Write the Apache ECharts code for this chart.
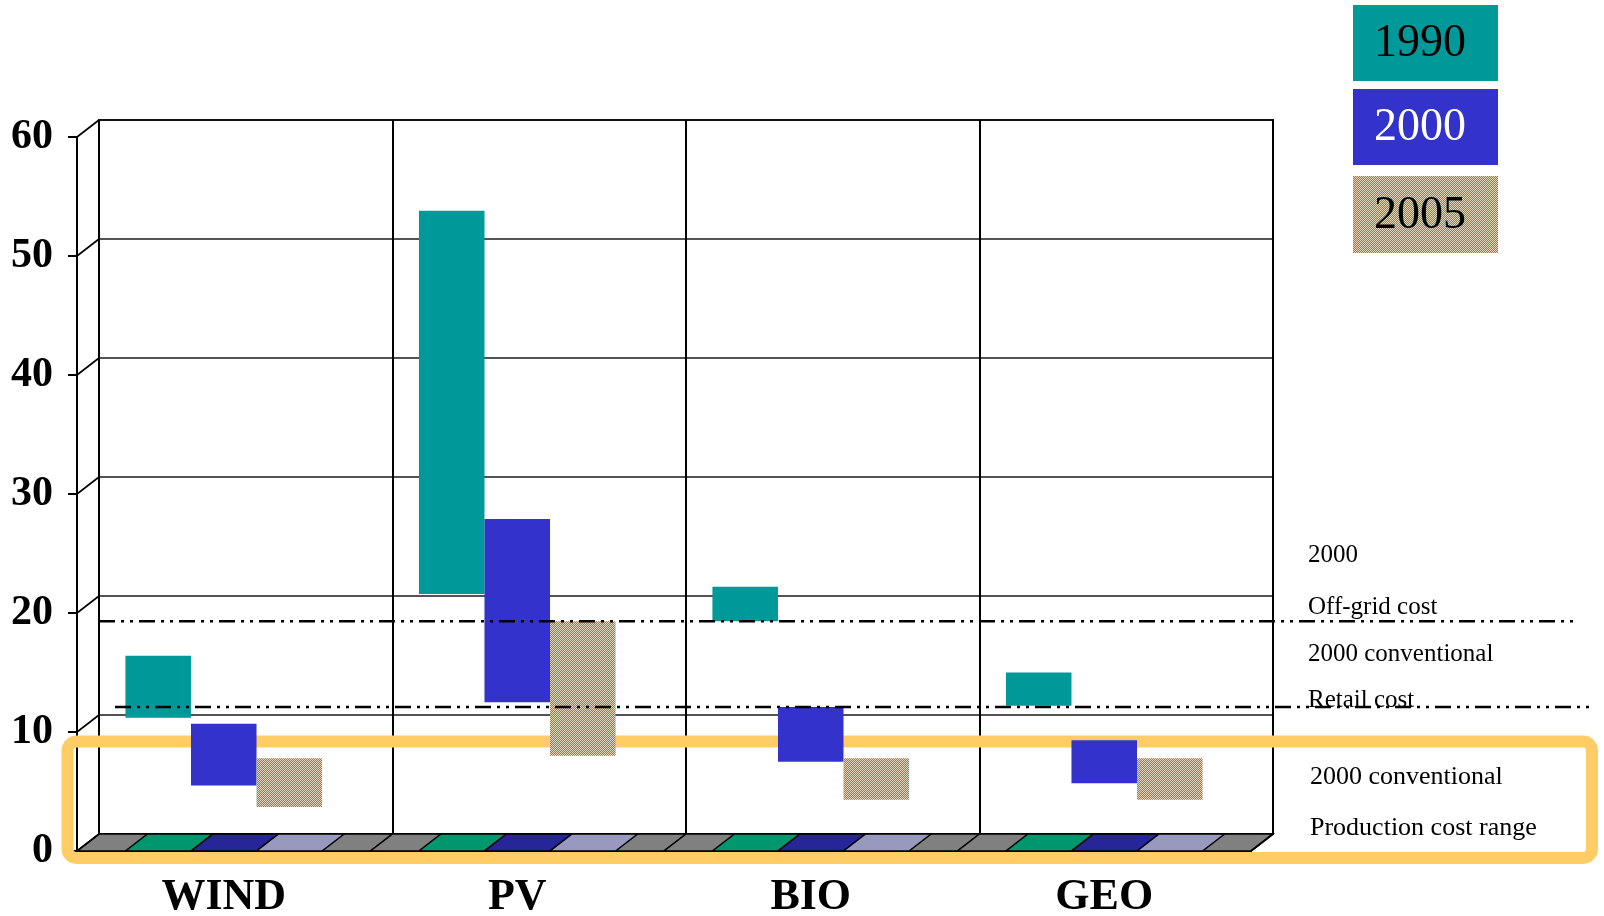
<!DOCTYPE html>
<html>
<head>
<meta charset="utf-8">
<script src="https://cdn.jsdelivr.net/npm/echarts@6/dist/echarts.min.js"></script>
<style>
  html, body { margin: 0; padding: 0; background: #fff; }
  #chart { width: 1604px; height: 916px; }
</style>
</head>
<body>
<div id="chart"></div>
<script>
// data
var categories = ['WIND', 'PV', 'BIO', 'GEO'];
var years = ['1990', '2000', '2005'];
var low1990 = [11.2, 21.6, 19.3, 12.2];
var high1990 = [16.4, 53.8, 22.2, 15.0];
var low2000 = [5.5, 12.5, 7.5, 5.7];
var high2000 = [10.7, 27.9, 12.1, 9.3];
var low2005 = [3.7, 8.0, 4.3, 4.3];
var high2005 = [7.8, 19.3, 7.8, 7.8];
var yTicks = [0, 10, 20, 30, 40, 50, 60];
var offGridCost = 19.3;
var retailCost = 12.1;
var noteLines = ['2000', 'Off-grid cost', '2000 conventional', 'Retail cost'];
var boxLines = ['2000 conventional', 'Production cost range'];

var FONT = '"Liberation Serif", "Times New Roman", serif';
var CAT_GAP = 0.33;
var DX = 22, DY = 17;           // pseudo 3d depth
var FRONT = { left: 77, right: 353, top: 137, bottom: 65 };
var BACK = { left: 99, right: 331, top: 120, bottom: 82 };

// dotted tan fill
function tanPattern() {
  var c = document.createElement('canvas');
  c.width = 2; c.height = 2;
  var ctx = c.getContext('2d');
  ctx.fillStyle = '#9c7450';
  ctx.fillRect(0, 0, 2, 2);
  ctx.fillStyle = '#e6d6bc';
  ctx.fillRect(0, 0, 1, 1);
  ctx.fillRect(1, 1, 1, 1);
  return { image: c, repeat: 'repeat' };
}
var TAN = tanPattern();
var yearFills = ['#009999', '#3333cc', TAN];
var floorColors = ['#00966e', '#262699', '#9999bf'];

function barRenderer(slot, fill) {
  return function (params, api) {
    var cat = api.value(0);
    var lo = api.coord([cat, api.value(1)]);
    var hi = api.coord([cat, api.value(2)]);
    var band = api.size([1, 0])[0];
    var sw = band * (1 - CAT_GAP) / 3;
    var x0 = lo[0] - 1.5 * sw + slot * sw;
    return {
      type: 'rect',
      shape: { x: x0, y: hi[1], width: sw, height: lo[1] - hi[1] },
      style: { fill: fill }
    };
  };
}

function para(x0, x1, y) {
  return [[x0, y], [x1, y], [x1 + DX, y - DY], [x0 + DX, y - DY]];
}

function floorRenderer(params, api) {
  var cat = api.value(0);
  var p = api.coord([cat, 0]);
  var band = api.size([1, 0])[0];
  var sw = band * (1 - CAT_GAP) / 3;
  var kids = [{
    type: 'polygon',
    shape: { points: para(p[0] - band / 2, p[0] + band / 2, p[1]) },
    style: { fill: '#808080', stroke: '#000', lineWidth: 1.5 }
  }];
  for (var k = 0; k < 3; k++) {
    var x0 = p[0] - 1.5 * sw + k * sw;
    kids.push({
      type: 'polygon',
      shape: { points: para(x0, x0 + sw, p[1]) },
      style: { fill: floorColors[k], stroke: '#000', lineWidth: 1.5 }
    });
  }
  return { type: 'group', children: kids };
}

var lows = [low1990, low2000, low2005];
var highs = [high1990, high2000, high2005];

var series = [{
  type: 'custom',
  name: 'floor',
  xAxisIndex: 1, yAxisIndex: 1,
  z: 3,
  renderItem: floorRenderer,
  encode: { x: 0, y: 1 },
  data: categories.map(function (c, i) { return [i, 0]; })
}];
years.forEach(function (y, s) {
  series.push({
    type: 'custom',
    name: y,
    xAxisIndex: 1, yAxisIndex: 1,
    z: 4,
    renderItem: barRenderer(s, yearFills[s]),
    encode: { x: 0, y: [1, 2] },
    data: categories.map(function (c, i) { return [i, lows[s][i], highs[s][i]]; })
  });
});

var chart = echarts.init(document.getElementById('chart'));
var option = {
  animation: false,
  backgroundColor: '#fff',
  grid: [
    { left: BACK.left, right: BACK.right, top: BACK.top, bottom: BACK.bottom,
      outerBoundsMode: 'none', containLabel: false,
      show: true, borderColor: '#000', borderWidth: 2, backgroundColor: 'transparent' },
    { left: FRONT.left, right: FRONT.right, top: FRONT.top, bottom: FRONT.bottom,
      outerBoundsMode: 'none', containLabel: false }
  ],
  xAxis: [
    { type: 'category', gridIndex: 0, data: categories,
      axisLine: { show: false }, axisTick: { show: false }, axisLabel: { show: false },
      splitLine: { show: true, lineStyle: { color: '#000', width: 2 } } },
    { type: 'category', gridIndex: 1, data: categories,
      axisLine: { show: true, lineStyle: { color: '#000', width: 2 } },
      axisTick: { show: true, length: 3, lineStyle: { color: '#000', width: 1.5 } },
      axisLabel: { color: '#000', fontFamily: FONT, fontWeight: 'bold', fontSize: 44, margin: 25 },
      splitLine: { show: false } }
  ],
  yAxis: [
    { type: 'value', gridIndex: 0, min: 0, max: 60, interval: 10,
      axisLine: { show: false }, axisTick: { show: false }, axisLabel: { show: false },
      splitLine: { show: true, lineStyle: { color: '#1a1a1a', width: 1.6 } } },
    { type: 'value', gridIndex: 1, min: 0, max: 60, interval: 10,
      axisLine: { show: true, lineStyle: { color: '#000', width: 2 } },
      axisTick: { show: true, length: 9, lineStyle: { color: '#000', width: 2 } },
      axisLabel: { color: '#000', fontFamily: FONT, fontWeight: 'bold', fontSize: 42, margin: 24 },
      splitLine: { show: false } }
  ],
  series: series
};
chart.setOption(option);

// decorations placed through the axes' own scales
function yFront(v) { return chart.convertToPixel({ yAxisIndex: 1 }, v); }
function yBack(v) { return chart.convertToPixel({ yAxisIndex: 0 }, v); }

var g = [];
g.push({
  type: 'rect', z: 1,
  shape: { x: 67.5, y: 741.5, width: 1524.5, height: 116.5, r: 9 },
  style: { fill: 'none', stroke: '#ffcc66', lineWidth: 12 }
});
yTicks.forEach(function (v) {
  g.push({
    type: 'line', z: 5,
    shape: { x1: FRONT.left, y1: yFront(v), x2: BACK.left, y2: yBack(v) },
    style: { stroke: '#000', lineWidth: 1.6 }
  });
});
var rightFront = 1604 - FRONT.right, rightBack = 1604 - BACK.right;
g.push({
  type: 'line', z: 5,
  shape: { x1: rightFront, y1: yFront(0), x2: rightBack, y2: yBack(0) },
  style: { stroke: '#000', lineWidth: 2 }
});
var dash = [16, 6, 3, 6, 3, 6];
g.push({
  type: 'line', z: 6,
  shape: { x1: BACK.left, y1: yFront(offGridCost), x2: 1575, y2: yFront(offGridCost) },
  style: { stroke: '#000', lineWidth: 2.5, lineDash: dash }
});
g.push({
  type: 'line', z: 6,
  shape: { x1: 115, y1: yFront(retailCost), x2: 1590, y2: yFront(retailCost) },
  style: { stroke: '#000', lineWidth: 2.5, lineDash: dash }
});
var noteY = [555, 607, 654, 700];
noteLines.forEach(function (t, i) {
  g.push({ type: 'text', z: 7, x: 1308, y: noteY[i],
    style: { text: t, fontFamily: FONT, fontSize: 25, fill: '#000', align: 'left', verticalAlign: 'middle' } });
});
var boxY = [777, 828];
boxLines.forEach(function (t, i) {
  g.push({ type: 'text', z: 7, x: 1310, y: boxY[i],
    style: { text: t, fontFamily: FONT, fontSize: 26, fill: '#000', align: 'left', verticalAlign: 'middle' } });
});
// year boxes
var boxTop = [5, 89, 176], boxH = [76, 76, 77], textFill = ['#000', '#fff', '#000'];
years.forEach(function (y, s) {
  g.push({ type: 'rect', z: 7,
    shape: { x: 1353, y: boxTop[s], width: 145, height: boxH[s] },
    style: { fill: yearFills[s] } });
  g.push({ type: 'text', z: 8, x: 1374, y: boxTop[s] + boxH[s] / 2 + 1,
    style: { text: y, fontFamily: FONT, fontSize: 46, fill: textFill[s], align: 'left', verticalAlign: 'middle' } });
});
chart.setOption({ graphic: g });

window.onresize = function () { chart.resize(); };
</script>
</body>
</html>
